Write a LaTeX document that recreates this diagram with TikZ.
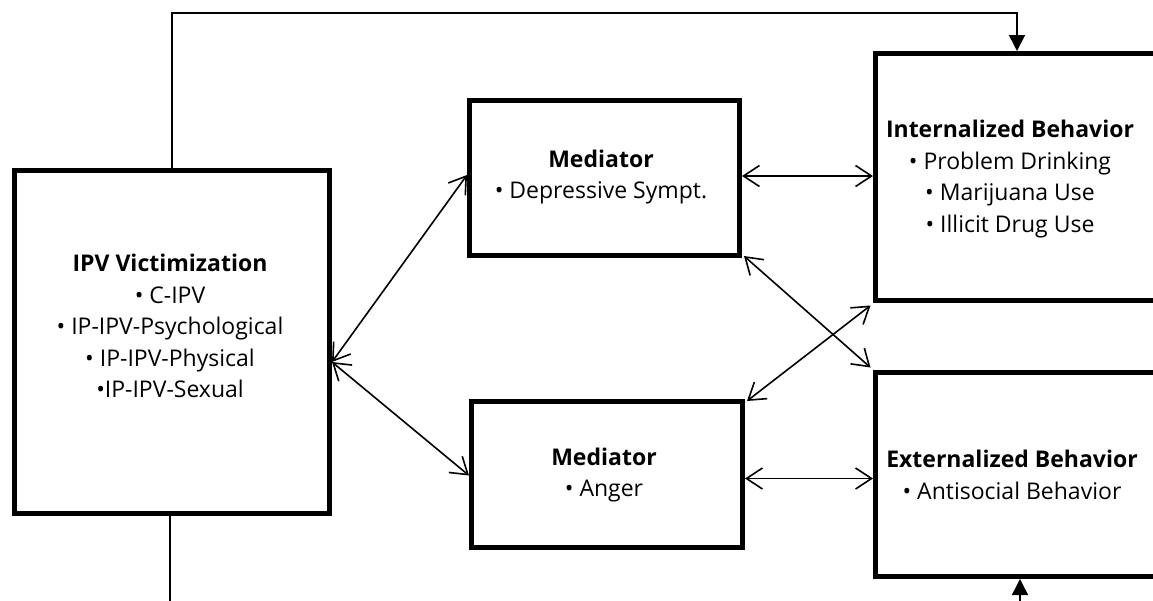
\documentclass[tikz,border=0pt]{standalone}
\usepackage{fontspec}
\setmainfont{Open Sans}
\usetikzlibrary{arrows.meta}
\begin{document}
\begin{tikzpicture}[x=1pt,y=-1pt,
  box/.style={draw=black,line width=5pt,rectangle,inner sep=0pt,anchor=north west},
  txt/.style={align=center,font=\fontsize{23}{31.5}\selectfont,inner sep=0pt},
  dbl/.style={line width=1.6pt,{Straight Barb[length=16pt,width=21pt]}-{Straight Barb[length=16pt,width=21pt]}},
  solid/.style={line width=1.6pt,-{Triangle[length=16pt,width=16pt]}}]
\useasboundingbox (0,0) rectangle (1153,600);
\begin{scope}
\clip (0,0) rectangle (1153,600);
% boxes
\node[box,minimum width=315pt,minimum height=343pt] (ipv) at (12,168) {};
\node[box,minimum width=270pt,minimum height=155pt] (m1) at (467,98) {};
\node[box,minimum width=271pt,minimum height=146pt] (m2) at (469,399) {};
\node[box,minimum width=300pt,minimum height=247pt] (ib) at (873,51) {};
\node[box,minimum width=300pt,minimum height=204pt] (eb) at (873,370) {};
% texts
\node[txt] (ipvt) at (170,326) {\textbf{IPV Victimization}\\• C-IPV\\• IP-IPV-Psychological\\• IP-IPV-Physical\\•IP-IPV-Sexual};
\node[txt] (m1t) at (601,177) {\textbf{Mediator}\\• Depressive Sympt.};
\node[txt] (m2t) at (604,475) {\textbf{Mediator}\\• Anger};
\node[txt] (ibt) at (1010,179) {\textbf{Internalized Behavior}\\• Problem Drinking\\• Marijuana Use\\• Illicit Drug Use};
\node[txt] (ebt) at (1012,475) {\textbf{Externalized Behavior}\\• Antisocial Behavior};
% coordinates
\coordinate (topL) at (172,13);
\coordinate (topR) at (1017,13);
\coordinate (botL) at (170,605);
\coordinate (botR) at (1020,605);
% bidirectional arrows
\draw[dbl] ([yshift=-20pt]ipv.east) -- ([yshift=3pt]m1.west);
\draw[dbl] ([yshift=-20pt]ipv.east) -- ([yshift=-1pt]m2.west);
\draw[dbl] ([yshift=2pt]m1.east) -- ([yshift=2pt]m1.east -| ib.west);
\draw[dbl] ([yshift=-4pt]m2.east) -- ([yshift=-4pt]m2.east -| eb.west);
\draw[dbl] ([shift={(2pt,2pt)}]m1.south east) -- ([shift={(-2.5pt,2.5pt)}]eb.north west);
\draw[dbl] ([shift={(2pt,-2pt)}]m2.north east) -- ([shift={(-2.5pt,-2.5pt)}]ib.south west);
% feedback lines
\draw[solid] (topL |- ipv.north) -- (topL) -- (topR) -- (topR |- ib.north);
\draw[line width=1.6pt] (botL |- ipv.south) -- (botL);
\draw[solid] (botR) -- (botR |- eb.south);
\end{scope}
\end{tikzpicture}
\end{document}
